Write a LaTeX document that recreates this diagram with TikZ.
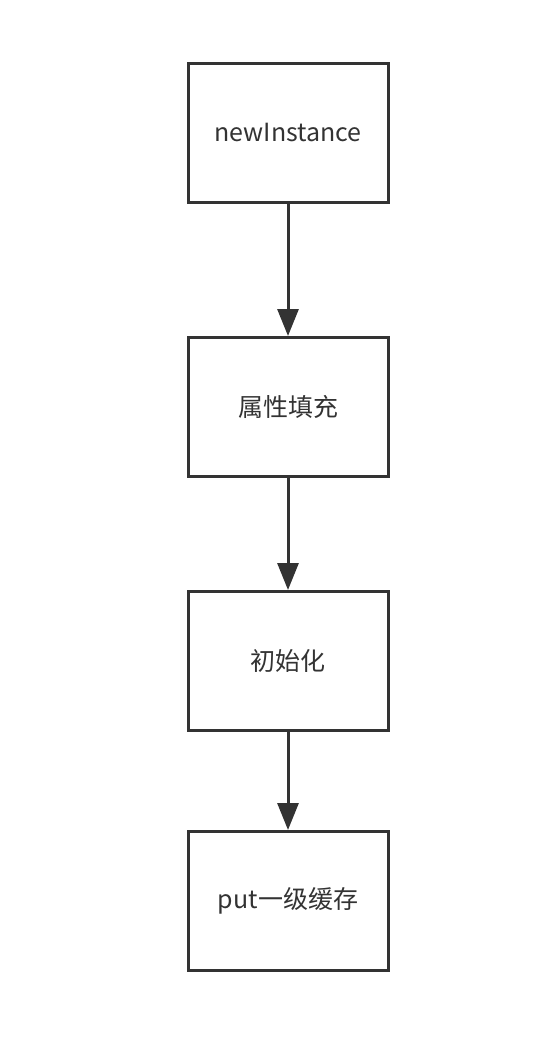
\documentclass[tikz,border=0pt]{standalone}
\usepackage{fontspec}
\setmainfont{Noto Sans CJK SC}
\usepackage{tikz}
\usetikzlibrary{arrows.meta}

\definecolor{linegray}{HTML}{333333}

\begin{document}
\begin{tikzpicture}[x=1pt,y=-1pt,
  stage/.style={draw=linegray,line width=3pt,minimum width=200pt,minimum height=139pt,
    inner sep=0pt,font=\fontsize{25}{30}\selectfont,text=linegray},
  flow/.style={draw=linegray,line width=3pt,-{Triangle[length=27pt,width=21pt]}}]
\useasboundingbox (0,0) rectangle (544,1048);

\node[stage] (inst) at (288,133) {newInstance};
\node[stage] (fill) at (288,407) {属性填充};
\node[stage] (init) at (288,661) {初始化};
\node[stage] (cache) at (288,901) {put一级缓存};

\draw[flow] (inst) -- (fill);
\draw[flow] (fill) -- (init);
\draw[flow] (init) -- (cache);
\end{tikzpicture}
\end{document}
